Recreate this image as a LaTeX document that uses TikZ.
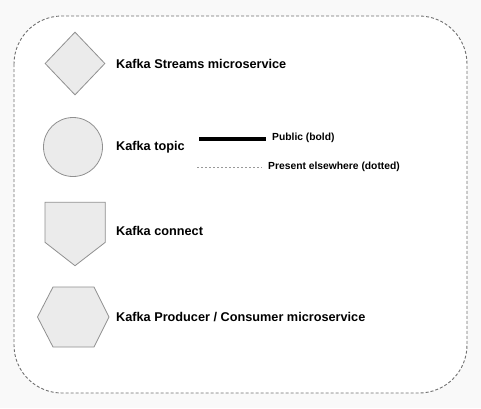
\documentclass[tikz,border=0pt]{standalone}
\usepackage{fontspec}
\setmainfont{Liberation Sans}
\usetikzlibrary{shapes.geometric}
\definecolor{bgc}{HTML}{F9F9F9}
\definecolor{shapefill}{HTML}{EBEBEB}
\definecolor{shapedraw}{HTML}{909090}
\definecolor{framec}{HTML}{707070}
\definecolor{dotc}{HTML}{999999}
\tikzset{
  shp/.style={fill=shapefill, draw=shapedraw, line width=0.8bp, inner sep=0pt},
  lbl/.style={anchor=west, inner sep=0pt, font=\bfseries\fontsize{12.7bp}{15bp}\selectfont, text=black},
  legl/.style={anchor=west, inner sep=0pt, font=\bfseries\fontsize{10.3bp}{12bp}\selectfont, text=black},
}
\begin{document}
\begin{tikzpicture}[x=1bp,y=-1bp]
\fill[bgc] (0,0) rectangle (481,408);
\useasboundingbox (0,0) rectangle (481,408);
\draw[framec, fill=white, line width=0.9bp, dash pattern=on 3bp off 2bp, rounded corners=48bp] (14,16) rectangle (467,393);
% diamond
\node[shp, diamond, minimum width=60bp, minimum height=63bp] (streams) at (75,63.5) {};
\node[lbl] (streamsl) at (116,63.5) {Kafka Streams microservice};
% circle
\node[shp, circle, minimum size=59bp] (topic) at (73,147) {};
\node[lbl] (topicl) at (116,147) {Kafka topic};
% pentagon
\draw[shp] (45,202.3) -- (105.3,202.3) -- (105.3,242.3) -- (75,265.7) -- (45,242.3) -- cycle;
\node[lbl] (connectl) at (116,231) {Kafka connect};
% hexagon
\draw[shp] (37.5,317) -- (53,287) -- (94,287) -- (109,317) -- (94,347) -- (53,347) -- cycle;
\node[lbl] (prodl) at (116,317) {Kafka Producer / Consumer microservice};
% legend
\coordinate (pa) at (199,139);
\coordinate (pb) at (266,139);
\draw[black, line width=3.2bp] (pa) -- (pb);
\node[legl] (publ) at (272,138) {Public (bold)};
\coordinate (da) at (197,167);
\coordinate (db) at (262,167);
\draw[dotc, line width=1bp, dash pattern=on 2bp off 2bp] (da) -- (db);
\node[legl] (dotl) at (268,167) {Present elsewhere (dotted)};
\end{tikzpicture}
\end{document}
